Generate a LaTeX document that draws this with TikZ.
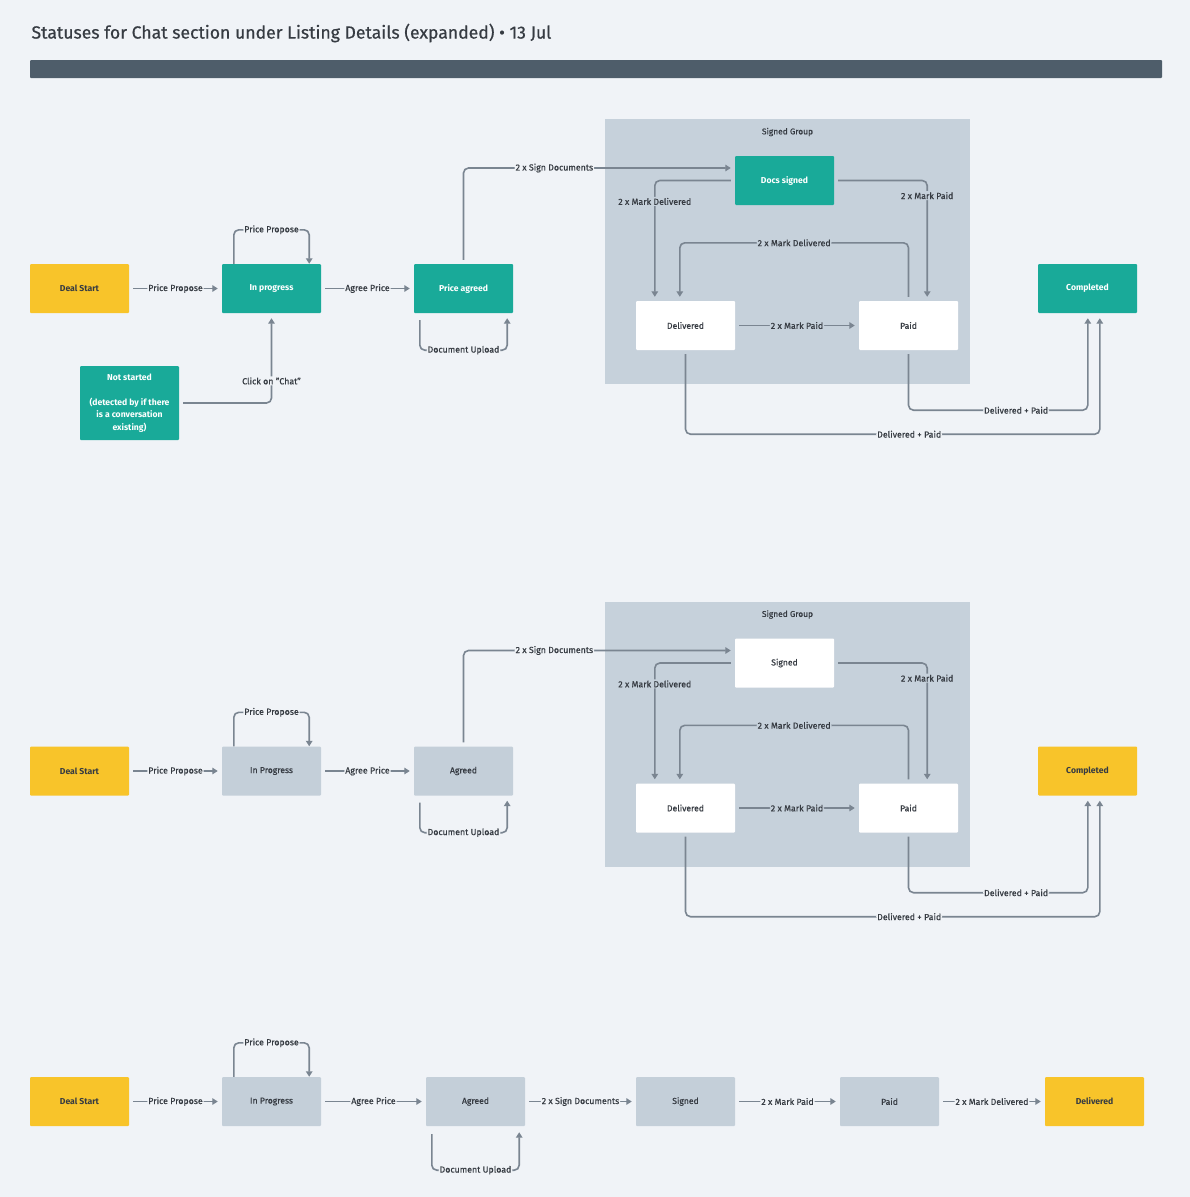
\documentclass[tikz,border=0pt]{standalone}
\usepackage{fontspec}
\setmainfont{Fira Sans}[UprightFeatures={FakeBold=0.6}]
\usetikzlibrary{arrows.meta}

\definecolor{bgc}{HTML}{F0F3F7}
\definecolor{barc}{HTML}{4E5D6A}
\definecolor{tealc}{HTML}{19AA99}
\definecolor{yelc}{HTML}{F8C42A}
\definecolor{greyc}{HTML}{C4CFD9}
\definecolor{grpc}{HTML}{C6D1DB}
\definecolor{arrc}{HTML}{7A8591}
\definecolor{txtc}{HTML}{363B42}

\begin{document}
\begin{tikzpicture}[x=1pt,y=-1pt,
  box/.style={rectangle,rounded corners=1pt,minimum width=99pt,minimum height=49pt,inner sep=2pt,
    align=center,text=txtc,font=\fontsize{8.6}{12.5}\selectfont},
  teal box/.style={box,fill=tealc,text=white,font=\fontsize{8.6}{12.5}\selectfont\bfseries},
  yellow box/.style={box,fill=yelc,font=\fontsize{8.6}{12.5}\selectfont\bfseries},
  grey box/.style={box,fill=greyc},
  white box/.style={box,fill=white},
  arr/.style={draw=arrc,line width=1.6pt,rounded corners=5pt,-{Triangle[length=5.5pt,width=6.5pt]}},
  gap/.style={shorten <=4pt,shorten >=4pt},
  lbl/.style={fill=bgc,inner sep=1pt,text=txtc,font=\fontsize{8.8}{10}\selectfont},
  glbl/.style={lbl,fill=grpc}]

\useasboundingbox (0,0) rectangle (1190,1197);
\fill[bgc] (0,0) rectangle (1190,1197);

\node[anchor=west,text=txtc,font=\fontsize{17.6}{20}\selectfont] (title) at (28,33)
  {Statuses for Chat section under Listing Details (expanded) • 13 Jul};
\fill[barc,rounded corners=1pt] (30,60) rectangle (1162,78);

% expanded, chat statuses
\fill[grpc] (605,119) rectangle (970,384);
\node[text=txtc,font=\fontsize{8.4}{9}\selectfont] (grpA) at (787.5,132) {Signed Group};

\node[yellow box] (dsA) at (79.5,288.5) {Deal Start};
\node[teal box] (ipA) at (271.5,288.5) {In progress};
\node[teal box] (paA) at (463.5,288.5) {Price agreed};
\node[teal box,minimum height=74pt] (nsA) at (129.5,403)
  {Not started\\[12.5pt](detected by if there\\is a conversation\\existing)};
\node[teal box] (sgA) at (784.5,180.5) {Docs signed};
\node[white box] (dlA) at (685.5,325.5) {Delivered};
\node[white box] (pdA) at (908.5,325.5) {Paid};
\node[teal box] (cpA) at (1087.5,288.5) {Completed};

\draw[arr,gap] (dsA) -- node[lbl]{Price Propose} (ipA);
\draw[arr] ([xshift=12]ipA.north west) -- ++(0,-34) -| node[lbl,pos=0.25]{Price Propose} ([xshift=-12]ipA.north east);
\draw[arr,gap] (ipA) -- node[lbl]{Agree Price} (paA);
\draw[arr] ([xshift=6,yshift=-7]paA.south west) -- ++(0,30) -| node[lbl,pos=0.25]{Document Upload} ([xshift=-6,yshift=-5]paA.south east);
\draw[arr] ([xshift=4]nsA.east) -| node[lbl,pos=0.63]{Click on "Chat"} ([yshift=-5]ipA.south);
\draw[arr] ([yshift=4]paA.north) |- node[lbl,pos=0.67]{2 x Sign Documents} ([xshift=-4,yshift=12.5]sgA.west);
\draw[arr] ([xshift=-4]sgA.west) -| node[glbl,pos=0.59]{2 x Mark Delivered} ([xshift=19,yshift=4]dlA.north west);
\draw[arr] ([xshift=4]sgA.east) -| node[glbl,pos=0.565]{2 x Mark Paid} ([xshift=-31,yshift=4]pdA.north east);
\draw[arr] ([yshift=4]pdA.north) -- ++(0,-54) -| node[glbl,pos=0.25]{2 x Mark Delivered} ([xshift=44,yshift=4]dlA.north west);
\draw[arr,gap] (dlA) -- node[glbl]{2 x Mark Paid} (pdA);
\draw[arr] ([yshift=-4]pdA.south) -- ++(0,56) -| node[lbl,pos=0.3]{Delivered + Paid} ([xshift=50,yshift=-5]cpA.south west);
\draw[arr] ([yshift=-4]dlA.south) -- ++(0,80) -| node[lbl,pos=0.27]{Delivered + Paid} ([xshift=62,yshift=-5]cpA.south west);

% expanded, listing statuses
\begin{scope}[shift={(0,482.5)}]
\fill[grpc] (605,119) rectangle (970,384);
\node[text=txtc,font=\fontsize{8.4}{9}\selectfont] (grpB) at (787.5,132) {Signed Group};

\node[yellow box] (dsB) at (79.5,288.5) {Deal Start};
\node[grey box] (ipB) at (271.5,288.5) {In Progress};
\node[grey box] (paB) at (463.5,288.5) {Agreed};
\node[white box] (sgB) at (784.5,180.5) {Signed};
\node[white box] (dlB) at (685.5,325.5) {Delivered};
\node[white box] (pdB) at (908.5,325.5) {Paid};
\node[yellow box] (cpB) at (1087.5,288.5) {Completed};

\draw[arr,gap] (dsB) -- node[lbl]{Price Propose} (ipB);
\draw[arr] ([xshift=12]ipB.north west) -- ++(0,-34) -| node[lbl,pos=0.25]{Price Propose} ([xshift=-12]ipB.north east);
\draw[arr,gap] (ipB) -- node[lbl]{Agree Price} (paB);
\draw[arr] ([xshift=6,yshift=-7]paB.south west) -- ++(0,30) -| node[lbl,pos=0.25]{Document Upload} ([xshift=-6,yshift=-5]paB.south east);
\draw[arr] ([yshift=4]paB.north) |- node[lbl,pos=0.67]{2 x Sign Documents} ([xshift=-4,yshift=12.5]sgB.west);
\draw[arr] ([xshift=-4]sgB.west) -| node[glbl,pos=0.59]{2 x Mark Delivered} ([xshift=19,yshift=4]dlB.north west);
\draw[arr] ([xshift=4]sgB.east) -| node[glbl,pos=0.565]{2 x Mark Paid} ([xshift=-31,yshift=4]pdB.north east);
\draw[arr] ([yshift=4]pdB.north) -- ++(0,-54) -| node[glbl,pos=0.25]{2 x Mark Delivered} ([xshift=44,yshift=4]dlB.north west);
\draw[arr,gap] (dlB) -- node[glbl]{2 x Mark Paid} (pdB);
\draw[arr] ([yshift=-4]pdB.south) -- ++(0,56) -| node[lbl,pos=0.3]{Delivered + Paid} ([xshift=50,yshift=-5]cpB.south west);
\draw[arr] ([yshift=-4]dlB.south) -- ++(0,80) -| node[lbl,pos=0.27]{Delivered + Paid} ([xshift=62,yshift=-5]cpB.south west);
\end{scope}

% collapsed
\node[yellow box] (dsC) at (79.5,1101.5) {Deal Start};
\node[grey box] (ipC) at (271.5,1101.5) {In Progress};
\node[grey box] (agC) at (475.5,1101.5) {Agreed};
\node[grey box] (sgC) at (685.5,1101.5) {Signed};
\node[grey box] (pdC) at (889.5,1101.5) {Paid};
\node[yellow box] (dlC) at (1094.5,1101.5) {Delivered};

\draw[arr,gap] (dsC) -- node[lbl]{Price Propose} (ipC);
\draw[arr] ([xshift=12]ipC.north west) -- ++(0,-34) -| node[lbl,pos=0.25]{Price Propose} ([xshift=-12]ipC.north east);
\draw[arr,gap] (ipC) -- node[lbl]{Agree Price} (agC);
\draw[arr] ([xshift=6,yshift=-8]agC.south west) -- ++(0,36) -| node[lbl,pos=0.25]{Document Upload} ([xshift=-6,yshift=-6]agC.south east);
\draw[arr,gap] (agC) -- node[lbl]{2 x Sign Documents} (sgC);
\draw[arr,gap] (sgC) -- node[lbl]{2 x Mark Paid} (pdC);
\draw[arr,gap] (pdC) -- node[lbl]{2 x Mark Delivered} (dlC);
\end{tikzpicture}
\end{document}
